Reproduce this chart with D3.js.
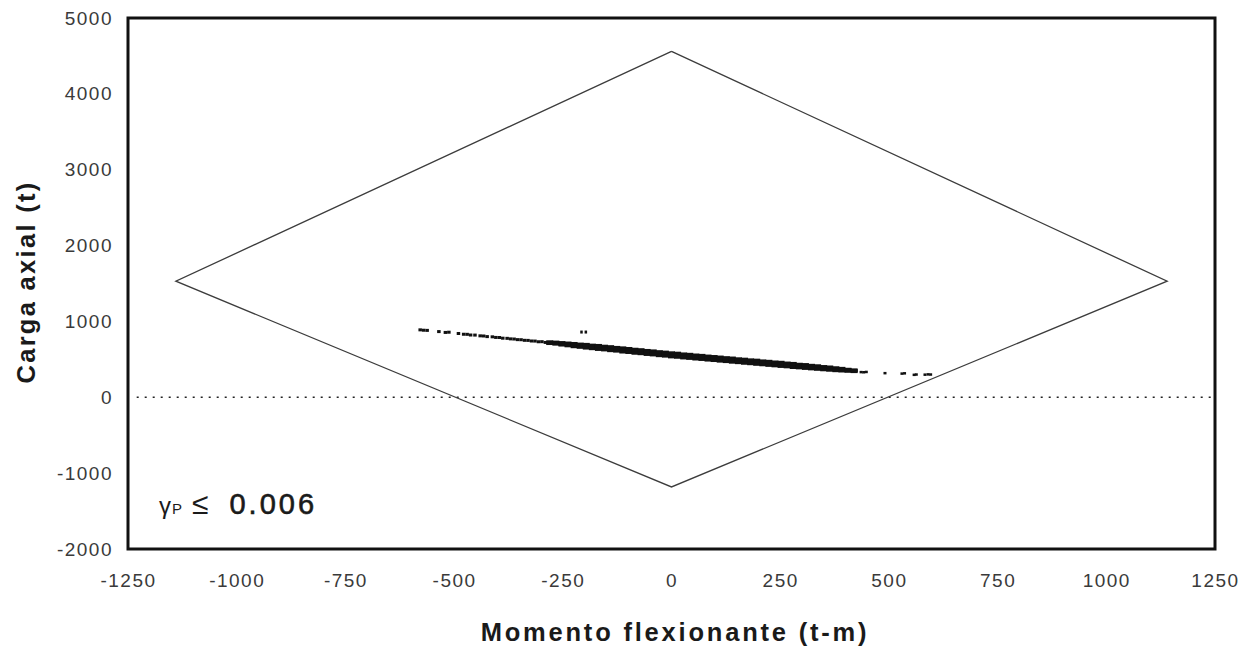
<!DOCTYPE html>
<html>
<head>
<meta charset="utf-8">
<title>Diagrama de interaccion</title>
<script src="https://d3js.org/d3.v7.min.js"></script>
<style>
  body { margin: 0; background: #fff; }
  svg text { font-family: "Liberation Sans", Arial, sans-serif; }
</style>
</head>
<body>
<svg width="1256" height="650"></svg>
<script>
// axis ticks
const xTicks = [-1250, -1000, -750, -500, -250, 0, 250, 500, 750, 1000, 1250];
const yTicks = [-2000, -1000, 0, 1000, 2000, 3000, 4000, 5000];

// interaction envelope (t-m, t)
const momentoEnv = [0, 1140, 0, -1140, 0];
const cargaEnv = [4560, 1530, -1182, 1530, 4560];

// sparse points, left end of the cloud
const momentoIzq = [-578, -570, -562, -535, -520, -512, -490, -478, -470, -462, -452, -440, -432, -424, -412, -404, -396, -388, -378, -370, -362, -354, -346, -338, -330, -322, -314, -306, -298, -290, -207, -197];
const cargaIzq = [889, 884, 882, 866, 855, 858, 841, 831, 830, 821, 820, 810, 808, 800, 797, 789, 788, 779, 777, 770, 768, 760, 759, 751, 750, 742, 741, 732, 733, 723, 860, 860];

// dense part of the cloud: one moment list, three load rows
const momentoBanda = [-280, -266, -252, -238, -224, -210, -196, -182, -168, -154, -140, -126, -112, -98, -84, -70, -56, -42, -28, -14, 0, 14, 28, 42, 56, 70, 84, 98, 112, 126, 140, 154, 168, 182, 196, 210, 224, 238, 252, 266, 280, 294, 308, 322, 336, 350, 364, 378, 392, 406, 420];
const cargaSup = [728, 724, 718, 712, 706, 698, 694, 684, 680, 670, 664, 654, 648, 640, 630, 624, 614, 608, 598, 592, 583, 578, 568, 563, 554, 549, 540, 534, 527, 519, 514, 504, 499, 490, 486, 476, 471, 462, 458, 448, 443, 432, 428, 418, 412, 402, 396, 386, 378, 366, 358];
const cargaMed = [720, 713, 703, 697, 687, 681, 671, 665, 655, 649, 639, 633, 623, 617, 607, 601, 591, 585, 575, 569, 560, 554, 545, 540, 531, 526, 517, 512, 503, 498, 489, 484, 475, 470, 461, 456, 447, 442, 433, 428, 419, 414, 405, 400, 391, 386, 377, 372, 363, 358, 350];
const cargaInf = [712, 704, 692, 682, 670, 662, 652, 644, 634, 628, 618, 612, 600, 594, 584, 578, 568, 562, 552, 546, 536, 531, 522, 516, 508, 502, 494, 488, 480, 474, 466, 460, 452, 446, 438, 432, 424, 418, 410, 405, 396, 391, 384, 378, 372, 366, 360, 354, 350, 346, 342];

// sparse points, right end of the cloud
const momentoDer = [436, 442, 448, 491, 530, 536, 558, 563, 583, 590, 596];
const cargaDer = [332, 330, 334, 318, 312, 316, 296, 300, 298, 302, 300];

const mLeft = 128, mRight = 1215, mTop = 18, mBottom = 549;
const svg = d3.select("svg");

const x = d3.scaleLinear().domain([-1250, 1250]).range([mLeft, mRight]);
const y = d3.scaleLinear().domain([-2000, 5000]).range([mBottom, mTop]);

// tick labels (no tick marks, plain hyphen minus)
const fmt = d => String(d);
const gx = svg.append("g")
    .attr("transform", "translate(0," + mBottom + ")")
    .call(d3.axisBottom(x).tickValues(xTicks).tickFormat(fmt).tickSize(0).tickPadding(25));
const gy = svg.append("g")
    .attr("transform", "translate(" + mLeft + ",0)")
    .call(d3.axisLeft(y).tickValues(yTicks).tickFormat(fmt).tickSize(0).tickPadding(15));
[gx, gy].forEach(g => {
    g.select(".domain").remove();
    g.selectAll("text")
        .attr("font-family", "Liberation Sans, Arial, sans-serif")
        .attr("font-size", 19)
        .attr("letter-spacing", "1.5px")
        .attr("fill", "#3a3a3a");
});

// zero line
svg.append("line")
    .attr("x1", x(-1230)).attr("x2", x(1245))
    .attr("y1", y(0)).attr("y2", y(0))
    .attr("stroke", "#222")
    .attr("stroke-width", 1.6)
    .attr("stroke-dasharray", "2,6");

// envelope
const line = d3.line().x(d => x(d[0])).y(d => y(d[1]));
svg.append("path")
    .datum(momentoEnv.map((m, i) => [m, cargaEnv[i]]))
    .attr("d", line)
    .attr("fill", "none")
    .attr("stroke", "#3c3c3c")
    .attr("stroke-width", 1.3);

// point cloud
const puntos = [];
momentoIzq.forEach((m, i) => puntos.push({m: m, c: cargaIzq[i], w: m > -250 ? 2.5 : 3.5, h: 3}));
momentoBanda.forEach((m, i) => {
    puntos.push({m: m, c: cargaSup[i], w: 7, h: 3.5});
    puntos.push({m: m, c: cargaMed[i], w: 7, h: 3.5});
    puntos.push({m: m, c: cargaInf[i], w: 7, h: 3.5});
});
momentoDer.forEach((m, i) => puntos.push({m: m, c: cargaDer[i], w: 3, h: 2.5}));

svg.append("g").selectAll("rect").data(puntos).enter().append("rect")
    .attr("x", d => x(d.m) - d.w / 2)
    .attr("y", d => y(d.c) - d.h / 2)
    .attr("width", d => d.w)
    .attr("height", d => d.h)
    .attr("fill", "#111");

// frame
svg.append("rect")
    .attr("x", mLeft).attr("y", mTop)
    .attr("width", mRight - mLeft).attr("height", mBottom - mTop)
    .attr("fill", "none")
    .attr("stroke", "#111")
    .attr("stroke-width", 3);

// axis titles
svg.append("text")
    .attr("x", 675)
    .attr("y", 641)
    .attr("text-anchor", "middle")
    .attr("font-size", 25.5)
    .attr("font-weight", "bold")
    .attr("letter-spacing", "2.8px")
    .attr("fill", "#1a1a1a")
    .text("Momento flexionante (t-m)");

svg.append("text")
    .attr("transform", "translate(35,282) rotate(-90)")
    .attr("text-anchor", "middle")
    .attr("font-size", 25.5)
    .attr("font-weight", "bold")
    .attr("letter-spacing", "2.3px")
    .attr("fill", "#1a1a1a")
    .text("Carga axial (t)");

// annotation
const nota = svg.append("text")
    .attr("x", 159)
    .attr("y", 514)
    .attr("fill", "#1a1a1a");
nota.append("tspan").attr("font-size", 24).text("γ");
nota.append("tspan").attr("font-size", 15).attr("dx", 1).text("P");
nota.append("tspan").attr("font-size", 30).attr("dx", 10).text("≤");
nota.append("tspan").attr("font-size", 29).attr("dx", 21)
    .attr("letter-spacing", "3px")
    .attr("stroke", "#1a1a1a").attr("stroke-width", 0.6)
    .text("0.006");
</script>
</body>
</html>
